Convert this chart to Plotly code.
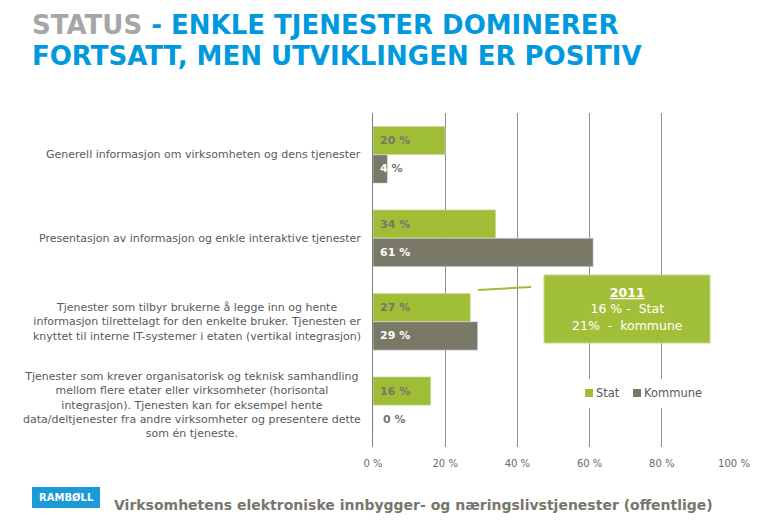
import plotly.graph_objects as go

categories = ["c1", "c2", "c3", "c4"]
category_labels = [
    "Generell informasjon om virksomheten og dens tjenester",
    "Presentasjon av informasjon og enkle interaktive tjenester",
    "Tjenester som tilbyr brukerne å legge inn og hente<br>informasjon tilrettelagt for den enkelte bruker. Tjenesten er<br>knyttet til interne IT-systemer i etaten (vertikal integrasjon)",
    "Tjenester som krever organisatorisk og teknisk samhandling<br>mellom flere etater eller virksomheter (horisontal<br>integrasjon). Tjenesten kan for eksempel hente<br>data/deltjenester fra andre virksomheter og presentere dette<br>som én tjeneste.",
]
series_names = ["Stat", "Kommune"]
stat = [20, 34, 27, 16]
kommune = [4, 61, 29, 0]
x_ticks = [0, 20, 40, 60, 80, 100]
x_tick_labels = ["0 %", "20 %", "40 %", "60 %", "80 %", "100 %"]

GREEN = "#9fbe36"
GREY = "#7a7866"
TXT = "#595959"
LBL = "#76766a"
FONT = "DejaVu Sans"

# screen geometry helpers (plot area: x 373..734, y 113..447 on the page)
PX0, PW, PY1, PH = 373, 361, 447, 334
def px(x):
    return (x - PX0) / PW
def py(y):
    return (PY1 - y) / PH

fig = go.Figure()
fig.add_trace(go.Bar(y=categories, x=stat, orientation="h", name=series_names[0],
                     marker=dict(color=GREEN), hoverinfo="skip"))
fig.add_trace(go.Bar(y=categories, x=kommune, orientation="h", name=series_names[1],
                     marker=dict(color=GREY), hoverinfo="skip"))

fig.update_layout(
    barmode="group", bargap=0.32, bargroupgap=0,
    width=767, height=524,
    margin=dict(l=365, r=41, t=105, b=85),
    paper_bgcolor="white", plot_bgcolor="white",
    showlegend=False,
    xaxis=dict(range=[0, 100], tickvals=x_ticks, ticktext=x_tick_labels,
               showgrid=True, gridcolor="#8c8c8c", gridwidth=1, zeroline=False,
               showline=False, ticks="", ticklabelstandoff=9,
               tickfont=dict(family=FONT, size=10, color="#6a6a6a")),
    yaxis=dict(autorange="reversed", showticklabels=False, showgrid=False,
               showline=True, linecolor="#7f7f7f", linewidth=1, ticks=""),
    font=dict(family=FONT),
)

# data labels
for c, s, k in zip(categories, stat, kommune):
    fig.add_annotation(x=0, y=c, xref="x", yref="y", text=f"<b>{s} %</b>",
                       showarrow=False, xanchor="left", xshift=5, yshift=14,
                       font=dict(family=FONT, size=11, color=LBL))
    if 0 < k < 10:
        txt = f"<b>{k}</b><span style='color:{LBL}'><b> %</b></span>"
        col = "white"
    elif k == 0:
        txt = f"<b>{k} %</b>"
        col = LBL
    else:
        txt = f"<b>{k} %</b>"
        col = "white"
    fig.add_annotation(x=0, y=c, xref="x", yref="y", text=txt,
                       showarrow=False, xanchor="left", xshift=5 if k > 0 else 8,
                       yshift=-14, font=dict(family=FONT, size=11, color=col))

# category labels
for c, lab in zip(categories, category_labels):
    fig.add_annotation(x=0, y=c, xref="paper", yref="y", text=lab,
                       showarrow=False, xanchor="right", xshift=-10, align="center",
                       font=dict(family=FONT, size=11, color=TXT))

# title
fig.add_annotation(text="<b><span style='color:#a6a6a6'>STATUS</span> - ENKLE TJENESTER DOMINERER</b>",
                   xref="paper", yref="paper", x=px(30), y=py(8),
                   xanchor="left", yanchor="top", align="left", showarrow=False,
                   font=dict(family=FONT, size=26, color="#0099dd"))
fig.add_annotation(text="<b>FORTSATT, MEN UTVIKLINGEN ER POSITIV</b>",
                   xref="paper", yref="paper", x=px(30), y=py(39),
                   xanchor="left", yanchor="top", align="left", showarrow=False,
                   font=dict(family=FONT, size=26, color="#0099dd"))

# legend (drawn)
fig.add_shape(type="rect", xref="paper", yref="paper",
              x0=px(580), x1=px(706), y0=py(408), y1=py(379),
              fillcolor="white", line=dict(width=0), layer="above")
fig.add_shape(type="rect", xref="paper", yref="paper",
              x0=px(585), x1=px(593), y0=py(397), y1=py(389),
              fillcolor=GREEN, line=dict(width=0), layer="above")
fig.add_shape(type="rect", xref="paper", yref="paper",
              x0=px(633), x1=px(641), y0=py(397), y1=py(389),
              fillcolor=GREY, line=dict(width=0), layer="above")
fig.add_annotation(text=series_names[0], xref="paper", yref="paper", x=px(594), y=py(393),
                   xanchor="left", yanchor="middle", showarrow=False,
                   font=dict(family=FONT, size=11.5, color=TXT))
fig.add_annotation(text=series_names[1], xref="paper", yref="paper", x=px(642), y=py(393),
                   xanchor="left", yanchor="middle", showarrow=False,
                   font=dict(family=FONT, size=11.5, color=TXT))

# callout box
fig.add_shape(type="rect", xref="paper", yref="paper",
              x0=px(544), x1=px(710), y0=py(343), y1=py(275),
              fillcolor="#a2bf3a", line=dict(color="#c6d98a", width=1), layer="above")
fig.add_shape(type="line", xref="paper", yref="paper",
              x0=px(478), x1=px(531), y0=py(290), y1=py(287),
              line=dict(color=GREEN, width=2), layer="above")
fig.add_annotation(text="<b><u>2011</u></b><br>16 % -&nbsp;&nbsp;Stat<br>21%&nbsp;&nbsp;-&nbsp;&nbsp;kommune",
                   xref="paper", yref="paper", x=px(627), y=py(309),
                   xanchor="center", yanchor="middle", align="center", showarrow=False,
                   font=dict(family=FONT, size=12.5, color="white"))

# footer
fig.add_shape(type="rect", xref="paper", yref="paper",
              x0=px(32), x1=px(100), y0=py(508), y1=py(487),
              fillcolor="#1a9ad6", line=dict(width=0))
fig.add_annotation(text="<b>RAMBØLL</b>", xref="paper", yref="paper",
                   x=px(66), y=py(497.5), showarrow=False,
                   xanchor="center", yanchor="middle",
                   font=dict(family=FONT, size=10, color="white"))
fig.add_annotation(text="<b>Virksomhetens elektroniske innbygger- og næringslivstjenester (offentlige)</b>",
                   xref="paper", yref="paper", x=px(112), y=py(505),
                   showarrow=False, xanchor="left", yanchor="middle",
                   font=dict(family=FONT, size=14, color=LBL))

fig.write_html("out.html")
